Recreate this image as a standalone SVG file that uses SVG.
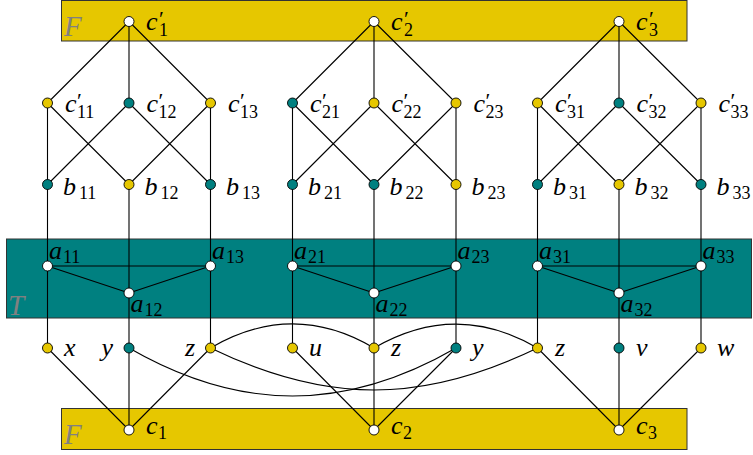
<svg xmlns="http://www.w3.org/2000/svg" width="753" height="455" viewBox="0 0 753 455" font-family="'Liberation Serif', 'Times New Roman', serif">
<style>
.gold{fill:#E6C700}
.teal{fill:#008080}
.band{stroke:#333;stroke-width:1}
.e{stroke:#000;stroke-width:1.1;fill:none}
.n{stroke:#000;stroke-width:0.9}
.o{fill:#fff;stroke:#000;stroke-width:0.9}
.t{font-style:italic;font-size:26px;fill:#000}
.s{font-style:normal;font-size:18px}
.p{font-style:normal;font-size:22px}
.reg{font-size:29px;fill:#808080}
</style>
<defs>
<circle id="dot" r="5"/>
</defs>
<g id="regions">
<rect class="gold band" x="61.5" y="0.5" width="625.5" height="40.5"/>
<rect class="teal band" x="6.5" y="239" width="745" height="79"/>
<rect class="gold band" x="61.5" y="408.5" width="625.5" height="41"/>
<text class="t reg" x="64" y="36">F</text>
<text class="t reg" x="8" y="315">T</text>
<text class="t reg" x="64" y="444">F</text>
</g>
<g id="connectors">
<path class="e" d="M129 21.5L47.5 103M129 21.5V103M129 21.5L210.5 103M47.5 103V184.5M47.5 103L129 184.5M129 103L47.5 184.5M129 103L210.5 184.5M210.5 103L129 184.5M210.5 103V184.5M47.5 184.5V266M129 184.5V293M210.5 184.5V266M47.5 266V348M129 293V348M210.5 266V348M47.5 266H210.5M47.5 266L129 293M129 293L210.5 266M47.5 348L129 430M129 348V430M210.5 348L129 430"/>
<path class="e" d="M374 21.5L292.5 103M374 21.5V103M374 21.5L456 103M292.5 103V184.5M292.5 103L374 184.5M374 103L292.5 184.5M374 103L456 184.5M456 103L374 184.5M456 103V184.5M292.5 184.5V266M374 184.5V293M456 184.5V266M292.5 266V348M374 293V348M456 266V348M292.5 266H456M292.5 266L374 293M374 293L456 266M292.5 348L374 430M374 348V430M456 348L374 430"/>
<path class="e" d="M619 21.5L537.5 103M619 21.5V103M619 21.5L701 103M537.5 103V184.5M537.5 103L619 184.5M619 103L537.5 184.5M619 103L701 184.5M701 103L619 184.5M701 103V184.5M537.5 184.5V266M619 184.5V293M701 184.5V266M537.5 266V348M619 293V348M701 266V348M537.5 266H701M537.5 266L619 293M619 293L701 266M537.5 348L619 430M619 348V430M701 348L619 430"/>
<path class="e" d="M210.5 348C265 316 320 316 374 348"/>
<path class="e" d="M374 348C429 316 483 316 537.5 348"/>
<path class="e" d="M210.5 348C326 404 422 404 537.5 348"/>
<path class="e" d="M129 348C240 412 345 412 456 348"/>
</g>
<g id="c1p"><use href="#dot" class="o" x="129" y="21.5"/><text class="t" x="146" y="30">c<tspan class="p" x="159" dy="-4">′</tspan><tspan class="s" x="159" dy="10">1</tspan></text></g>
<g id="c2p"><use href="#dot" class="o" x="374" y="21.5"/><text class="t" x="391" y="30">c<tspan class="p" x="404" dy="-4">′</tspan><tspan class="s" x="404" dy="10">2</tspan></text></g>
<g id="c3p"><use href="#dot" class="o" x="619" y="21.5"/><text class="t" x="636" y="30">c<tspan class="p" x="649" dy="-4">′</tspan><tspan class="s" x="649" dy="10">3</tspan></text></g>
<g id="c11p"><use href="#dot" class="n gold" x="47.5" y="103"/><text class="t" x="65" y="112">c<tspan class="p" x="77" dy="-4">′</tspan><tspan class="s" x="77" dy="10">11</tspan></text></g>
<g id="c12p"><use href="#dot" class="n teal" x="129" y="103"/><text class="t" x="146.5" y="112">c<tspan class="p" x="158.5" dy="-4">′</tspan><tspan class="s" x="158.5" dy="10">12</tspan></text></g>
<g id="c13p"><use href="#dot" class="n gold" x="210.5" y="103"/><text class="t" x="228" y="112">c<tspan class="p" x="240" dy="-4">′</tspan><tspan class="s" x="240" dy="10">13</tspan></text></g>
<g id="c21p"><use href="#dot" class="n teal" x="292.5" y="103"/><text class="t" x="310" y="112">c<tspan class="p" x="322" dy="-4">′</tspan><tspan class="s" x="322" dy="10">21</tspan></text></g>
<g id="c22p"><use href="#dot" class="n gold" x="374" y="103"/><text class="t" x="391.5" y="112">c<tspan class="p" x="403.5" dy="-4">′</tspan><tspan class="s" x="403.5" dy="10">22</tspan></text></g>
<g id="c23p"><use href="#dot" class="n gold" x="456" y="103"/><text class="t" x="473.5" y="112">c<tspan class="p" x="485.5" dy="-4">′</tspan><tspan class="s" x="485.5" dy="10">23</tspan></text></g>
<g id="c31p"><use href="#dot" class="n gold" x="537.5" y="103"/><text class="t" x="555" y="112">c<tspan class="p" x="567" dy="-4">′</tspan><tspan class="s" x="567" dy="10">31</tspan></text></g>
<g id="c32p"><use href="#dot" class="n teal" x="619" y="103"/><text class="t" x="636.5" y="112">c<tspan class="p" x="648.5" dy="-4">′</tspan><tspan class="s" x="648.5" dy="10">32</tspan></text></g>
<g id="c33p"><use href="#dot" class="n gold" x="701" y="103"/><text class="t" x="718.5" y="112">c<tspan class="p" x="730.5" dy="-4">′</tspan><tspan class="s" x="730.5" dy="10">33</tspan></text></g>
<g id="b11"><use href="#dot" class="n teal" x="47.5" y="184.5"/><text class="t" x="63" y="194.5">b<tspan class="s" x="79" dy="4">11</tspan></text></g>
<g id="b12"><use href="#dot" class="n gold" x="129" y="184.5"/><text class="t" x="144.5" y="194.5">b<tspan class="s" x="160.5" dy="4">12</tspan></text></g>
<g id="b13"><use href="#dot" class="n teal" x="210.5" y="184.5"/><text class="t" x="226" y="194.5">b<tspan class="s" x="242" dy="4">13</tspan></text></g>
<g id="b21"><use href="#dot" class="n teal" x="292.5" y="184.5"/><text class="t" x="308" y="194.5">b<tspan class="s" x="324" dy="4">21</tspan></text></g>
<g id="b22"><use href="#dot" class="n teal" x="374" y="184.5"/><text class="t" x="389.5" y="194.5">b<tspan class="s" x="405.5" dy="4">22</tspan></text></g>
<g id="b23"><use href="#dot" class="n gold" x="456" y="184.5"/><text class="t" x="471.5" y="194.5">b<tspan class="s" x="487.5" dy="4">23</tspan></text></g>
<g id="b31"><use href="#dot" class="n teal" x="537.5" y="184.5"/><text class="t" x="553" y="194.5">b<tspan class="s" x="569" dy="4">31</tspan></text></g>
<g id="b32"><use href="#dot" class="n gold" x="619" y="184.5"/><text class="t" x="634.5" y="194.5">b<tspan class="s" x="650.5" dy="4">32</tspan></text></g>
<g id="b33"><use href="#dot" class="n teal" x="701" y="184.5"/><text class="t" x="716.5" y="194.5">b<tspan class="s" x="732.5" dy="4">33</tspan></text></g>
<g id="a11"><use href="#dot" class="o" x="47.5" y="266"/><text class="t" x="49" y="259">a<tspan class="s" x="63" dy="4">11</tspan></text></g>
<g id="a12"><use href="#dot" class="o" x="129" y="293"/><text class="t" x="130.5" y="312">a<tspan class="s" x="144.5" dy="4">12</tspan></text></g>
<g id="a13"><use href="#dot" class="o" x="210.5" y="266"/><text class="t" x="212" y="259">a<tspan class="s" x="226" dy="4">13</tspan></text></g>
<g id="a21"><use href="#dot" class="o" x="292.5" y="266"/><text class="t" x="294" y="259">a<tspan class="s" x="308" dy="4">21</tspan></text></g>
<g id="a22"><use href="#dot" class="o" x="374" y="293"/><text class="t" x="375.5" y="312">a<tspan class="s" x="389.5" dy="4">22</tspan></text></g>
<g id="a23"><use href="#dot" class="o" x="456" y="266"/><text class="t" x="457.5" y="259">a<tspan class="s" x="471.5" dy="4">23</tspan></text></g>
<g id="a31"><use href="#dot" class="o" x="537.5" y="266"/><text class="t" x="539" y="259">a<tspan class="s" x="553" dy="4">31</tspan></text></g>
<g id="a32"><use href="#dot" class="o" x="619" y="293"/><text class="t" x="620.5" y="312">a<tspan class="s" x="634.5" dy="4">32</tspan></text></g>
<g id="a33"><use href="#dot" class="o" x="701" y="266"/><text class="t" x="702.5" y="259">a<tspan class="s" x="716.5" dy="4">33</tspan></text></g>
<g id="lx"><use href="#dot" class="n gold" x="47.5" y="348"/><text class="t" x="64" y="356">x</text></g>
<g id="ly1"><use href="#dot" class="n teal" x="129" y="348"/><text class="t" x="113" y="356" text-anchor="end">y</text></g>
<g id="lz1"><use href="#dot" class="n gold" x="210.5" y="348"/><text class="t" x="195" y="356" text-anchor="end">z</text></g>
<g id="lu"><use href="#dot" class="n gold" x="292.5" y="348"/><text class="t" x="309" y="356">u</text></g>
<g id="lz2"><use href="#dot" class="n gold" x="374" y="348"/><text class="t" x="391" y="356">z</text></g>
<g id="ly2"><use href="#dot" class="n teal" x="456" y="348"/><text class="t" x="472" y="356">y</text></g>
<g id="lz3"><use href="#dot" class="n gold" x="537.5" y="348"/><text class="t" x="555" y="356">z</text></g>
<g id="lv"><use href="#dot" class="n teal" x="619" y="348"/><text class="t" x="636" y="356">v</text></g>
<g id="lw"><use href="#dot" class="n gold" x="701" y="348"/><text class="t" x="717" y="356">w</text></g>
<g id="c1"><use href="#dot" class="o" x="129" y="430"/><text class="t" x="146" y="434">c<tspan class="s" x="158" dy="5">1</tspan></text></g>
<g id="c2"><use href="#dot" class="o" x="374" y="430"/><text class="t" x="391" y="434">c<tspan class="s" x="403" dy="5">2</tspan></text></g>
<g id="c3"><use href="#dot" class="o" x="619" y="430"/><text class="t" x="636" y="434">c<tspan class="s" x="648" dy="5">3</tspan></text></g>
</svg>
